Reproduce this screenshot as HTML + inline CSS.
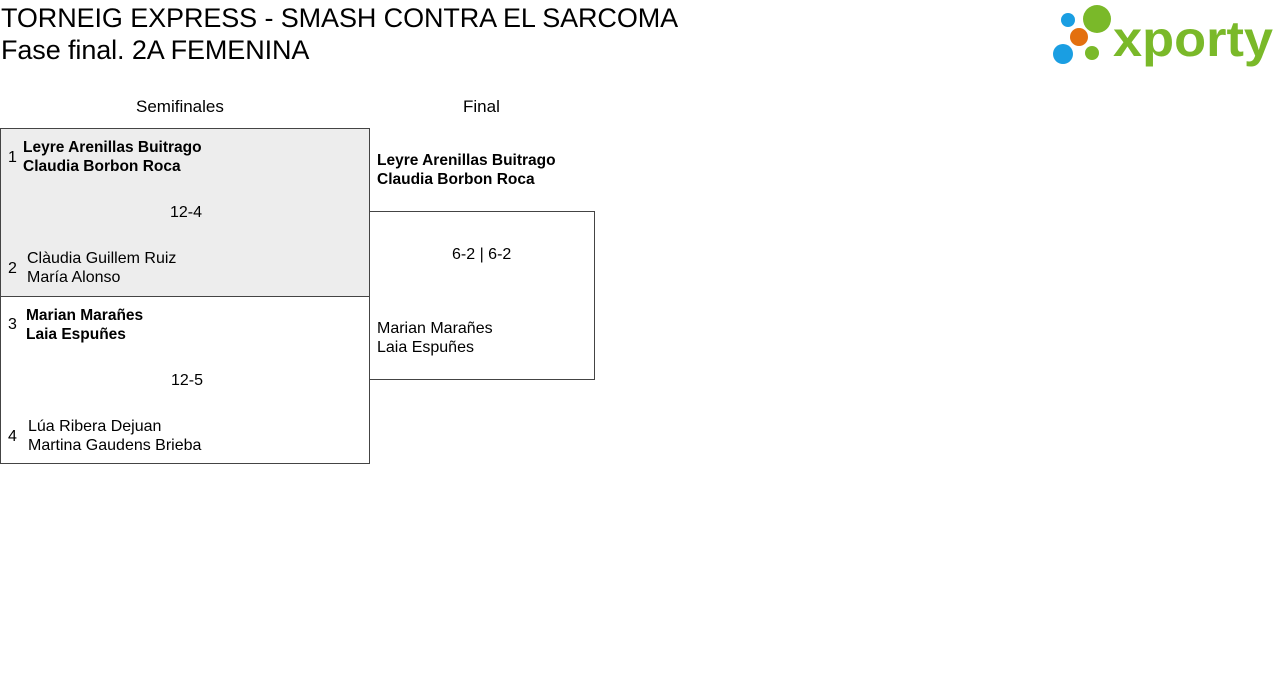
<!DOCTYPE html>
<html><head><meta charset="utf-8"><style>
body{margin:0;width:1280px;height:694px;background:#fff;font-family:"Liberation Sans",sans-serif;color:#000;position:relative;overflow:hidden}
.a{position:absolute;white-space:nowrap}
.t{font-size:27px;line-height:32px;letter-spacing:-0.1px}
.s{font-size:16px;line-height:19px}
.b{font-weight:bold;font-size:15.5px}
.box{position:absolute;border:1px solid #444;box-sizing:border-box}
</style></head><body>
<div class="a t" style="left:1px;top:2px">TORNEIG EXPRESS - SMASH CONTRA EL SARCOMA</div>
<div class="a t" style="left:1px;top:34px">Fase final. 2A FEMENINA</div>
<svg class="a" style="left:1040px;top:0" width="240" height="75">
<circle cx="28" cy="20" r="7" fill="#1a9ee2"/><circle cx="57" cy="19" r="14" fill="#7ab929"/>
<circle cx="39" cy="37" r="9" fill="#e3700f"/><circle cx="23" cy="54" r="10" fill="#1a9ee2"/>
<circle cx="52" cy="53" r="7" fill="#7ab929"/>
<text x="73" y="56" font-family="Liberation Sans" font-weight="bold" font-size="50" fill="#7ab929" textLength="160" lengthAdjust="spacingAndGlyphs">xporty</text>
</svg>
<div class="a s" style="left:136px;top:97px;font-size:17px">Semifinales</div>
<div class="a s" style="left:463px;top:97px;font-size:17px">Final</div>
<div class="box" style="left:0;top:128px;width:370px;height:169px;background:#ededed"></div>
<div class="box" style="left:0;top:296px;width:370px;height:168px"></div>
<div class="box" style="left:369px;top:211px;width:226px;height:169px"></div>
<div class="a s" style="left:8px;top:148px">1</div>
<div class="a s b" style="left:23px;top:138px">Leyre Arenillas Buitrago<br>Claudia Borbon Roca</div>
<div class="a s" style="left:170px;top:203px">12-4</div>
<div class="a s" style="left:8px;top:259px">2</div>
<div class="a s" style="left:27px;top:249px">Clàudia Guillem Ruiz<br>María Alonso</div>
<div class="a s" style="left:8px;top:315px">3</div>
<div class="a s b" style="left:26px;top:306px">Marian Marañes<br>Laia Espuñes</div>
<div class="a s" style="left:171px;top:371px">12-5</div>
<div class="a s" style="left:8px;top:427px">4</div>
<div class="a s" style="left:28px;top:417px">Lúa Ribera Dejuan<br>Martina Gaudens Brieba</div>
<div class="a s b" style="left:377px;top:151px">Leyre Arenillas Buitrago<br>Claudia Borbon Roca</div>
<div class="a s" style="left:452px;top:245px">6-2 | 6-2</div>
<div class="a s" style="left:377px;top:319px">Marian Marañes<br>Laia Espuñes</div>
</body></html>
